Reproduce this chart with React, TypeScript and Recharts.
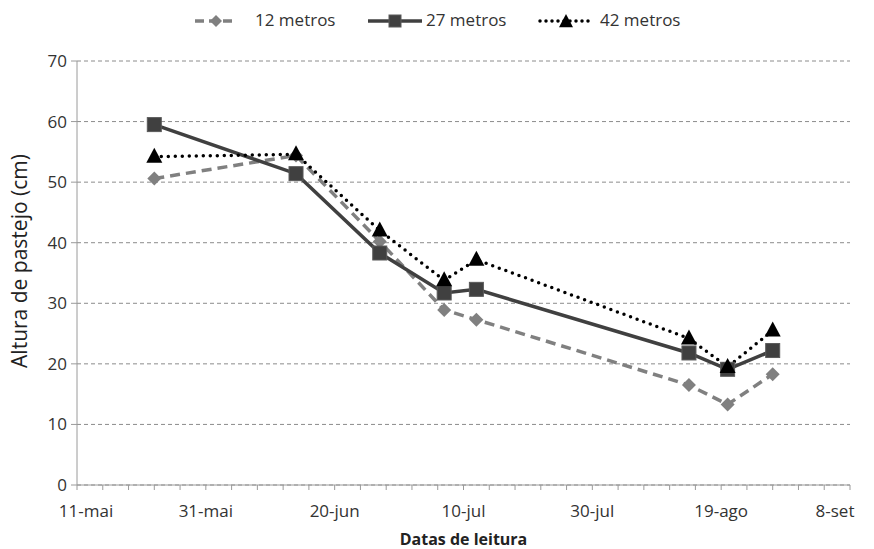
import { LineChart, Line, XAxis, YAxis, CartesianGrid, Label } from 'recharts';

const startDate = '2010-05-11';
const readingDates = ['2010-05-23', '2010-06-14', '2010-06-27', '2010-07-07', '2010-07-12', '2010-08-14', '2010-08-20', '2010-08-27'];
const height12 = [50.6, 54.4, 40.2, 28.9, 27.3, 16.5, 13.3, 18.3];
const height27 = [59.5, 51.4, 38.3, 31.7, 32.3, 21.8, 19.1, 22.2];
const height42 = [54.2, 54.6, 42.0, 33.8, 37.2, 24.2, 19.5, 25.5];
const xTickLabels = ['11-mai', '31-mai', '20-jun', '10-jul', '30-jul', '19-ago', '8-set'];
const yTicks = [0, 10, 20, 30, 40, 50, 60, 70];

const DAY = 86400000;
const toDay = (d: string) => Math.round((Date.parse(d) - Date.parse(startDate)) / DAY);

const data = readingDates.map((d, i) => ({
  day: toDay(d),
  m12: height12[i],
  m27: height27[i],
  m42: height42[i],
}));

// minor ticks every 4 days, labels only on the 20-day marks
const xTicks = Array.from({ length: 31 }, (_, i) => i * 4);

const C12 = '#808080';
const C27 = '#404040';
const C42 = '#000000';
const FONT = '"Open Sans", sans-serif';

const Diamond = ({ cx, cy, fill, r = 7 }: any) => (
  <path d={`M${cx},${cy - r} L${cx + r},${cy} L${cx},${cy + r} L${cx - r},${cy} Z`} fill={fill} />
);
const Square = ({ cx, cy, fill, r = 7 }: any) => (
  <rect x={cx - r} y={cy - r} width={2 * r} height={2 * r} fill={fill} stroke="#5a5a5a" strokeWidth={1} />
);
const Triangle = ({ cx, cy, fill, r = 8 }: any) => (
  <path d={`M${cx},${cy - r - 1} L${cx + r},${cy + r * 0.75} L${cx - r},${cy + r * 0.75} Z`} fill={fill} />
);

const XTick = ({ x, y, payload }: any) => {
  const v = payload.value;
  if (v % 20 !== 0) return <g />;
  const idx = v / 20;
  // Excel nudges the edge labels inwards
  const shift = idx === 0 ? 9 : idx === xTickLabels.length - 1 ? -15 : 0;
  return (
    <text x={x + shift} y={y + 25} textAnchor="middle" fontSize={17} fill="#333" fontFamily={FONT}>
      {xTickLabels[idx]}
    </text>
  );
};

const legendItems = [
  { name: '12 metros', color: C12, dash: '9 5', cap: 'butt', marker: 'diamond', left: 193, iconW: 46, textLeft: 255 },
  { name: '27 metros', color: C27, dash: undefined, cap: 'butt', marker: 'square', left: 366, iconW: 58, textLeft: 426 },
  { name: '42 metros', color: C42, dash: '0 6', cap: 'round', marker: 'triangle', left: 538, iconW: 56, textLeft: 600 },
];

const LegendIcon = ({ item }: any) => (
  <svg width={item.iconW} height={18} style={{ position: 'absolute', left: item.left, top: 12 }}>
    <line x1={2} y1={9} x2={item.iconW - 2} y2={9} stroke={item.color} strokeWidth={3.5} strokeDasharray={item.dash} strokeLinecap={item.cap} />
    {item.marker === 'diamond' && <Diamond cx={item.iconW / 2} cy={9} fill={item.color} r={6} />}
    {item.marker === 'square' && <Square cx={item.iconW / 2} cy={9} fill={item.color} r={6} />}
    {item.marker === 'triangle' && <Triangle cx={item.iconW / 2} cy={10} fill={item.color} r={7} />}
  </svg>
);

export default function App() {
  return (
    <div style={{ position: 'absolute', left: 0, top: 0, width: 874, height: 549, background: '#fff', fontFamily: FONT }}>
      {legendItems.map((it) => (
        <div key={it.name}>
          <LegendIcon item={it} />
          <span style={{ position: 'absolute', left: it.textLeft, top: 8, fontSize: 17, lineHeight: '24px', color: '#333', whiteSpace: 'nowrap' }}>
            {it.name}
          </span>
        </div>
      ))}
      <LineChart width={874} height={549} data={data} margin={{ top: 61, right: 24, bottom: 0, left: 0 }}>
        <CartesianGrid vertical={false} stroke="#8c8c8c" strokeDasharray="4 3" />
        <XAxis
          type="number"
          dataKey="day"
          domain={[0, 120]}
          ticks={xTicks}
          interval={0}
          height={64}
          tick={<XTick />}
          tickSize={5}
          stroke="#9a9a9a"
        >
          <Label
            content={({ viewBox }: any) => (
              <text x={viewBox.x + viewBox.width / 2} y={viewBox.y + 60} textAnchor="middle" fontSize={16} fontWeight="bold" fill="#222" fontFamily={FONT}>
                Datas de leitura
              </text>
            )}
          />
        </XAxis>
        <YAxis
          domain={[0, 70]}
          ticks={yTicks}
          width={77}
          tickSize={6}
          tickMargin={4}
          stroke="#9a9a9a"
          tick={{ fontSize: 17, fill: '#333', fontFamily: FONT }}
        >
          <Label
            content={({ viewBox }: any) => (
              <text transform={`translate(27, ${viewBox.y + viewBox.height / 2 - 12}) rotate(-90)`} textAnchor="middle" fontSize={21} fill="#222" fontFamily={FONT}>
                Altura de pastejo (cm)
              </text>
            )}
          />
        </YAxis>
        <Line
          dataKey="m12"
          stroke={C12}
          strokeWidth={3.5}
          strokeDasharray="10 6"
          isAnimationActive={false}
          activeDot={false}
          dot={(p: any) => <Diamond key={`d12-${p.index}`} cx={p.cx} cy={p.cy} fill={C12} />}
        />
        <Line
          dataKey="m27"
          stroke={C27}
          strokeWidth={3.5}
          isAnimationActive={false}
          activeDot={false}
          dot={(p: any) => <Square key={`d27-${p.index}`} cx={p.cx} cy={p.cy} fill={C27} />}
        />
        <Line
          dataKey="m42"
          stroke={C42}
          strokeWidth={3.5}
          strokeDasharray="0 7"
          strokeLinecap="round"
          isAnimationActive={false}
          activeDot={false}
          dot={(p: any) => <Triangle key={`d42-${p.index}`} cx={p.cx} cy={p.cy} fill={C42} />}
        />
      </LineChart>
    </div>
  );
}
